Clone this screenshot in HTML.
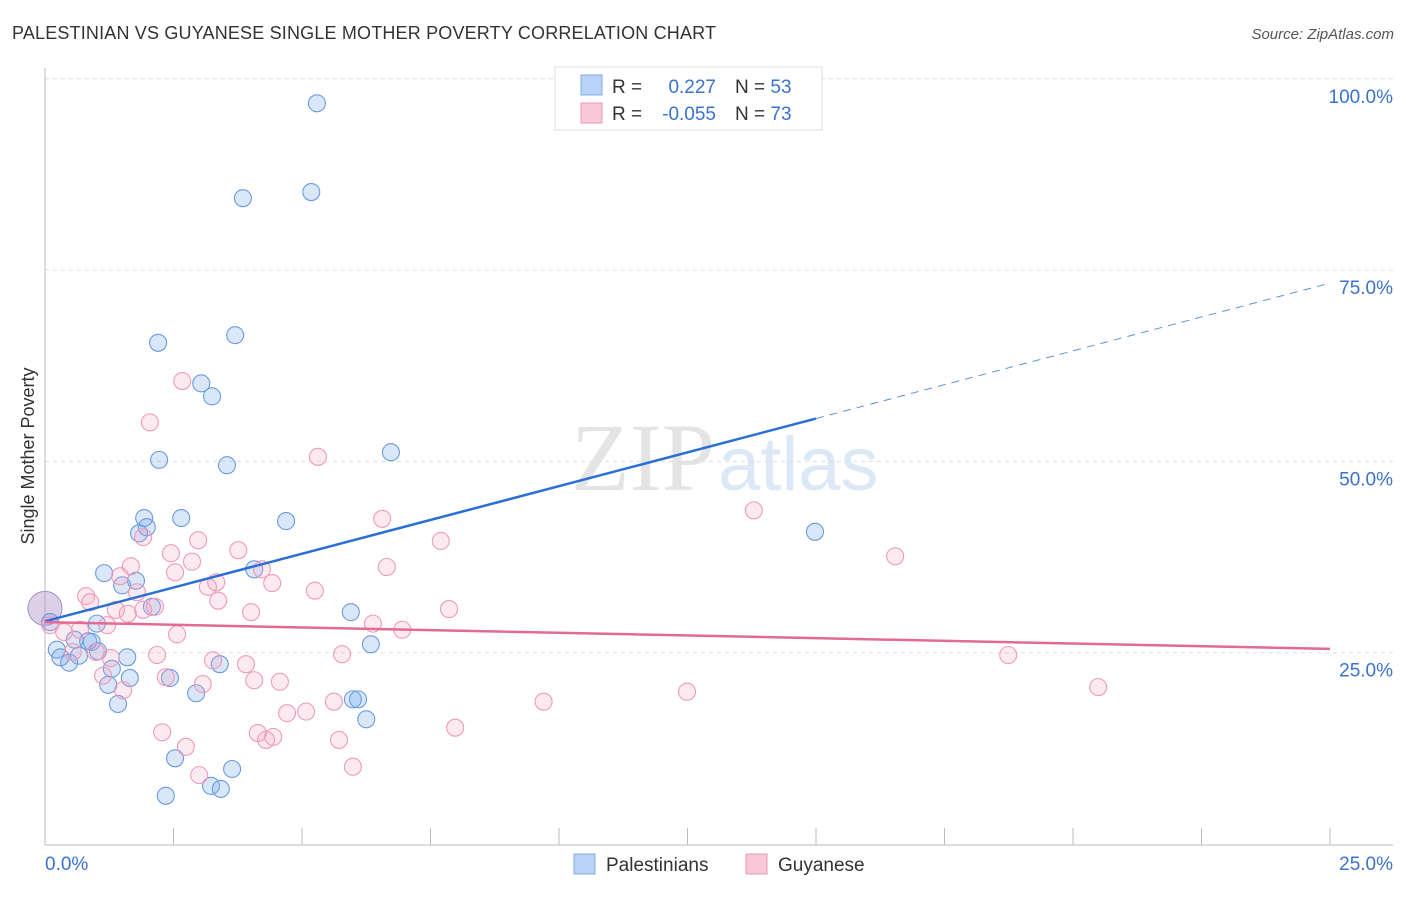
<!DOCTYPE html>
<html><head><meta charset="utf-8"><style>
body{margin:0;background:#fff;font-family:"Liberation Sans",sans-serif}
</style></head><body>
<svg width="1406" height="892" xmlns="http://www.w3.org/2000/svg" id="chart">
<text x="12" y="39" font-size="18" fill="#333" textLength="704">PALESTINIAN VS GUYANESE SINGLE MOTHER POVERTY CORRELATION CHART</text>
<text x="1394" y="39" font-size="15" fill="#555" font-style="italic" text-anchor="end">Source: ZipAtlas.com</text>
<text x="715" y="490" font-size="96" fill="#e4e4e4" text-anchor="end" font-family="Liberation Serif">ZIP</text>
<text x="718" y="490" font-size="76" fill="#dce8f6">atlas</text>
<text transform="translate(34,456) rotate(-90)" font-size="18" fill="#333" text-anchor="middle">Single Mother Poverty</text>
<g id="grid"></g><g id="axes"></g><g id="pts"></g><g id="lines"></g>
<g>
<rect x="555" y="67" width="267" height="63" fill="#fff" stroke="#ddd"/>
<rect x="581" y="75" width="21" height="20" fill="#b8d3f5" stroke="#7fa9e0"/>
<rect x="581" y="103" width="21" height="20" fill="#f9c8d8" stroke="#eb9ab5"/>
<text x="612" y="93" font-size="19" fill="#333">R =</text>
<text x="716" y="93" font-size="19" fill="#3a72d0" text-anchor="end">0.227</text>
<text x="735" y="93" font-size="19" fill="#333">N = <tspan fill="#3a72d0">53</tspan></text>
<text x="612" y="120" font-size="19" fill="#333">R =</text>
<text x="716" y="120" font-size="19" fill="#3a72d0" text-anchor="end">-0.055</text>
<text x="735" y="120" font-size="19" fill="#333">N = <tspan fill="#3a72d0">73</tspan></text>
</g>
<g>
<rect x="574" y="854" width="21" height="20" fill="#b8d3f5" stroke="#7fa9e0"/>
<text x="606" y="871" font-size="19" fill="#333">Palestinians</text>
<rect x="746" y="854" width="21" height="20" fill="#f9c8d8" stroke="#eb9ab5"/>
<text x="778" y="871" font-size="19" fill="#333">Guyanese</text>
</g>
</svg>
<script>
const blueX=[5.29,3.85,5.18,3.70,2.20,3.04,3.25,2.22,3.54,6.73,1.93,2.65,1.98,1.83,4.69,14.98,1.15,4.07,1.77,1.50,2.08,5.95,0.1,1.01,0.58,0.84,0.91,0.23,1.03,0.3,0.66,0.47,1.60,6.34,3.40,1.30,1.65,2.43,1.23,2.94,1.42,5.99,6.09,6.25,2.53,3.64,3.23,3.42,2.35];
const blueY=[96.8,84.4,85.2,66.5,65.5,60.2,58.5,50.2,49.5,51.2,42.6,42.6,41.4,40.6,42.2,40.8,35.4,35.9,34.4,33.8,31.0,30.3,29.0,28.8,26.7,26.5,26.4,25.4,25.2,24.4,24.6,23.7,24.4,26.1,23.5,22.9,21.7,21.7,20.8,19.7,18.3,18.9,18.9,16.3,11.2,9.8,7.6,7.2,6.3];
const pinkX=[2.67,2.04,5.31,6.56,13.79,7.70,16.54,1.91,2.98,3.76,2.45,2.86,1.67,2.53,4.22,6.65,1.46,3.33,3.17,4.42,5.25,1.79,0.80,0.88,3.37,2.14,1.38,1.61,1.91,4.01,7.86,1.21,6.38,6.95,0.1,0.37,0.68,2.57,0.54,0.99,1.28,2.18,3.27,3.91,5.78,18.74,1.13,2.35,4.07,4.57,3.07,1.52,12.49,20.49,9.70,5.62,5.08,4.71,7.98,2.28,4.14,4.44,4.30,5.72,2.74,5.99,3.00];
const pinkY=[60.5,55.1,50.6,42.5,43.6,39.6,37.6,40.1,39.7,38.4,38.0,36.9,36.3,35.5,35.9,36.2,35.0,34.2,33.6,34.1,33.1,32.9,32.4,31.6,31.8,31.0,30.6,30.1,30.6,30.3,30.7,28.6,28.8,28.0,28.6,27.7,28.0,27.4,25.1,25.1,24.3,24.7,24.0,23.5,24.8,24.7,22.0,21.8,21.4,21.2,20.9,20.1,19.9,20.5,18.6,18.6,17.3,17.1,15.2,14.6,14.5,14.0,13.6,13.6,12.7,10.1,9.0];
const bigPoints=[[0,30.8]];
const blueTrend=[29.1,55.6,73.3];
const pinkTrend=[29.0,25.5];
const yTicks=[25,50,75,100];
const yTickLabels=["25.0%","50.0%","75.0%","100.0%"];
const NS="http://www.w3.org/2000/svg";
const X=v=>45+v/25*1285, Y=v=>844-v*7.652;
function mk(tag,attrs,parent){const e=document.createElementNS(NS,tag);for(const k in attrs)e.setAttribute(k,attrs[k]);document.getElementById(parent).appendChild(e);return e;}
yTicks.forEach((t,i)=>{
  const g=mk('line',{x1:45,x2:1393,y1:Y(t),y2:Y(t),stroke:'#ddd','stroke-dasharray':'4,4'},'grid');
  
  
  const l=mk('text',{x:1393,y:Y(t)+24,'font-size':19,fill:'#3a72d0','text-anchor':'end'},'grid');
  l.textContent=yTickLabels[i];
  
  
});
const ax=mk('line',{x1:45,x2:45,y1:68,y2:845,stroke:'#bbb'},'axes');


const bx=mk('line',{x1:45,x2:1393,y1:845,y2:845,stroke:'#bbb'},'axes');


for(let i=0;i<=10;i++){
  const t=mk('line',{x1:X(i*2.5),x2:X(i*2.5),y1:828,y2:845,stroke:'#bbb'},'axes');
  
  
}
const xl0=mk('text',{x:45,y:870,'font-size':19,fill:'#3a72d0'},'axes');xl0.textContent='0.0%';


const xl1=mk('text',{x:1393,y:870,'font-size':19,fill:'#3a72d0','text-anchor':'end'},'axes');xl1.textContent='25.0%';


bigPoints.forEach(p=>{
  const c=mk('circle',{cx:X(p[0]),cy:Y(p[1]),r:17,fill:'rgba(180,150,200,0.45)',stroke:'#9a8fd0'},'pts');
  
  
});
blueX.forEach((x,i)=>{
  const c=mk('circle',{cx:X(x),cy:Y(blueY[i]),r:8.5,fill:'rgba(120,170,235,0.28)',stroke:'#6a9be0','stroke-width':1.1},'pts');
  
  
});
pinkX.forEach((x,i)=>{
  const c=mk('circle',{cx:X(x),cy:Y(pinkY[i]),r:8.5,fill:'rgba(245,160,190,0.22)',stroke:'#ee9bb8','stroke-width':1.1},'pts');
  
  
});
const b1=mk('line',{x1:X(0),y1:Y(blueTrend[0]),x2:X(15),y2:Y(blueTrend[1]),stroke:'#2a6fd6','stroke-width':2.5},'lines');


const b2=mk('line',{x1:X(15),y1:Y(blueTrend[1]),x2:X(25),y2:Y(blueTrend[2]),stroke:'#5e92dc','stroke-width':1,'stroke-dasharray':'8,6'},'lines');


const p1=mk('line',{x1:X(0),y1:Y(pinkTrend[0]),x2:X(25),y2:Y(pinkTrend[1]),stroke:'#e46a96','stroke-width':2.5},'lines');


</script>
</body></html>
